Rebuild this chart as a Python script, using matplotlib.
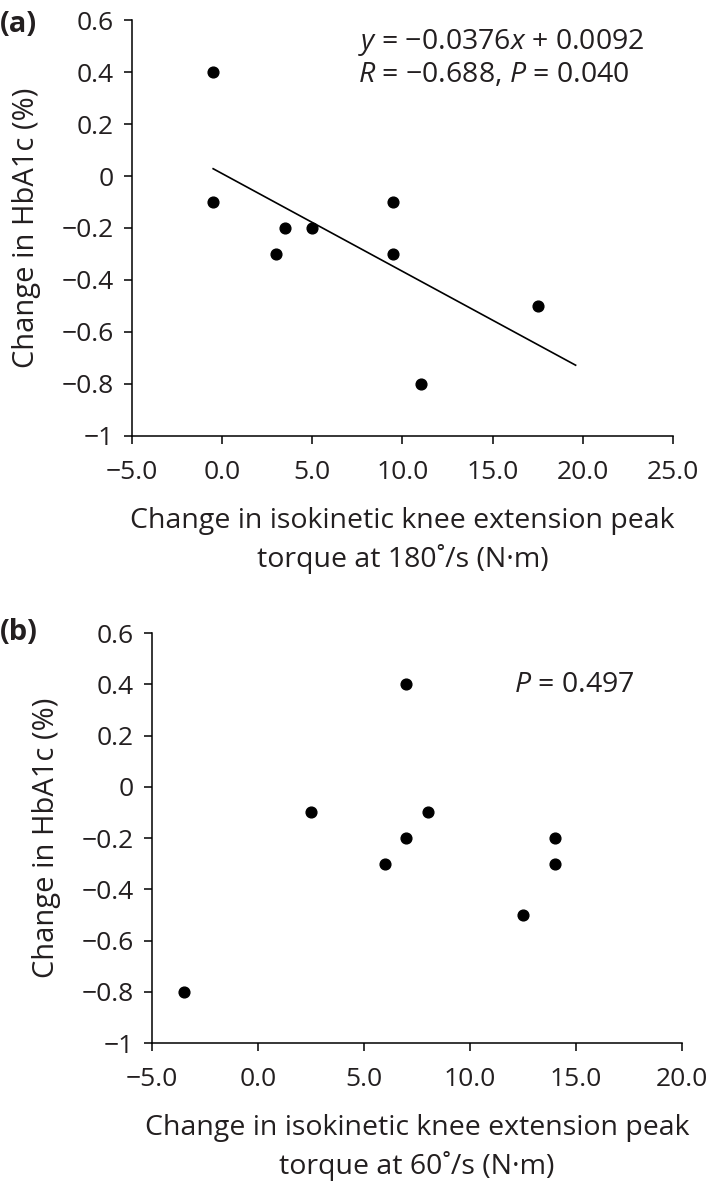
import matplotlib
matplotlib.use('Agg')
import matplotlib.pyplot as plt

# Panel (a): change in peak torque at 180 deg/s vs change in HbA1c
torque180 = [-0.5, -0.5, 3.0, 3.5, 5.0, 9.5, 9.5, 11.0, 17.5]
hba1c_a = [0.4, -0.1, -0.3, -0.2, -0.2, -0.1, -0.3, -0.8, -0.5]
fit_slope = -0.0376
fit_intercept = 0.0092
fit_range = [-0.5, 19.6]

# Panel (b): change in peak torque at 60 deg/s vs change in HbA1c
torque60 = [-3.5, 2.5, 6.0, 7.0, 7.0, 8.0, 12.5, 14.0, 14.0]
hba1c_b = [-0.8, -0.1, -0.3, 0.4, -0.2, -0.1, -0.5, -0.2, -0.3]

y_ticks = [0.6, 0.4, 0.2, 0, -0.2, -0.4, -0.6, -0.8, -1]
y_ticklabels = ['0.6', '0.4', '0.2', '0', '\u22120.2', '\u22120.4', '\u22120.6', '\u22120.8', '\u22121']
x_ticks_a = [-5, 0, 5, 10, 15, 20, 25]
x_ticks_b = [-5, 0, 5, 10, 15, 20]

FONT = 'Open Sans'
INK = '#231f20'
MINUS = '\u2212'
plt.rcParams['font.family'] = [FONT, 'DejaVu Sans']
plt.rcParams['mathtext.fontset'] = 'custom'
plt.rcParams['mathtext.rm'] = FONT
plt.rcParams['mathtext.it'] = FONT + ':italic'


def fmt_x(v):
    return ('%.1f' % v).replace('-', MINUS)


def style_axes(ax, xticks, xmax):
    ax.set_xlim(-5, xmax)
    ax.set_ylim(-1, 0.6)
    ax.set_yticks(y_ticks)
    ax.set_yticklabels(y_ticklabels)
    ax.set_xticks(xticks)
    ax.set_xticklabels([fmt_x(v) for v in xticks])
    for side in ['top', 'right']:
        ax.spines[side].set_visible(False)
    for side in ['left', 'bottom']:
        ax.spines[side].set_linewidth(1.1)
        ax.spines[side].set_color('black')
    ax.tick_params(axis='both', direction='out', length=6, width=1.1, color='black',
                   labelsize=19, labelcolor=INK)
    ax.tick_params(axis='x', pad=11)
    ax.tick_params(axis='y', pad=7)
    ax.set_ylabel('Change in HbA1c (%)', fontsize=21, color=INK, labelpad=15)


fig = plt.figure(figsize=(7.09, 11.85), dpi=100)

ax1 = fig.add_axes([0.1862, 0.6321, 0.7630, 0.3510])
ax1.scatter(torque180, hba1c_a, s=60, color='black', zorder=3)
ax1.plot(fit_range, [fit_slope * v + fit_intercept for v in fit_range], color='black', lw=1.2)
style_axes(ax1, x_ticks_a, 25)
ax1.set_xlabel('Change in isokinetic knee extension peak\ntorque at 180\u02da/s (N\u00b7m)',
               fontsize=20.5, color=INK, linespacing=1.4, labelpad=16)
ax1.text(0.418, 0.947, r'$\mathit{y}$ = ' + MINUS + r'0.0376$\mathit{x}$ + 0.0092',
         transform=ax1.transAxes, fontsize=20.5, color=INK, va='center', ha='left')
ax1.text(0.418, 0.868, r'$\mathit{R}$ = ' + MINUS + r'0.688, $\mathit{P}$ = 0.040',
         transform=ax1.transAxes, fontsize=20.5, color=INK, va='center', ha='left')
fig.text(0.0, 1 - 25 / 1185, '(a)', fontsize=21, fontweight='bold', color=INK, va='center', ha='left')

ax2 = fig.add_axes([0.2144, 0.1198, 0.7475, 0.3460])
ax2.scatter(torque60, hba1c_b, s=60, color='black', zorder=3)
style_axes(ax2, x_ticks_b, 20)
ax2.set_xlabel('Change in isokinetic knee extension peak\ntorque at 60\u02da/s (N\u00b7m)',
               fontsize=20.5, color=INK, linespacing=1.4, labelpad=16)
ax2.text(0.683, 0.873, r'$\mathit{P}$ = 0.497', transform=ax2.transAxes,
         fontsize=20.5, color=INK, va='center', ha='left')
fig.text(0.0, 1 - 632 / 1185, '(b)', fontsize=21, fontweight='bold', color=INK, va='center', ha='left')

fig.savefig('out.png', dpi=100)
